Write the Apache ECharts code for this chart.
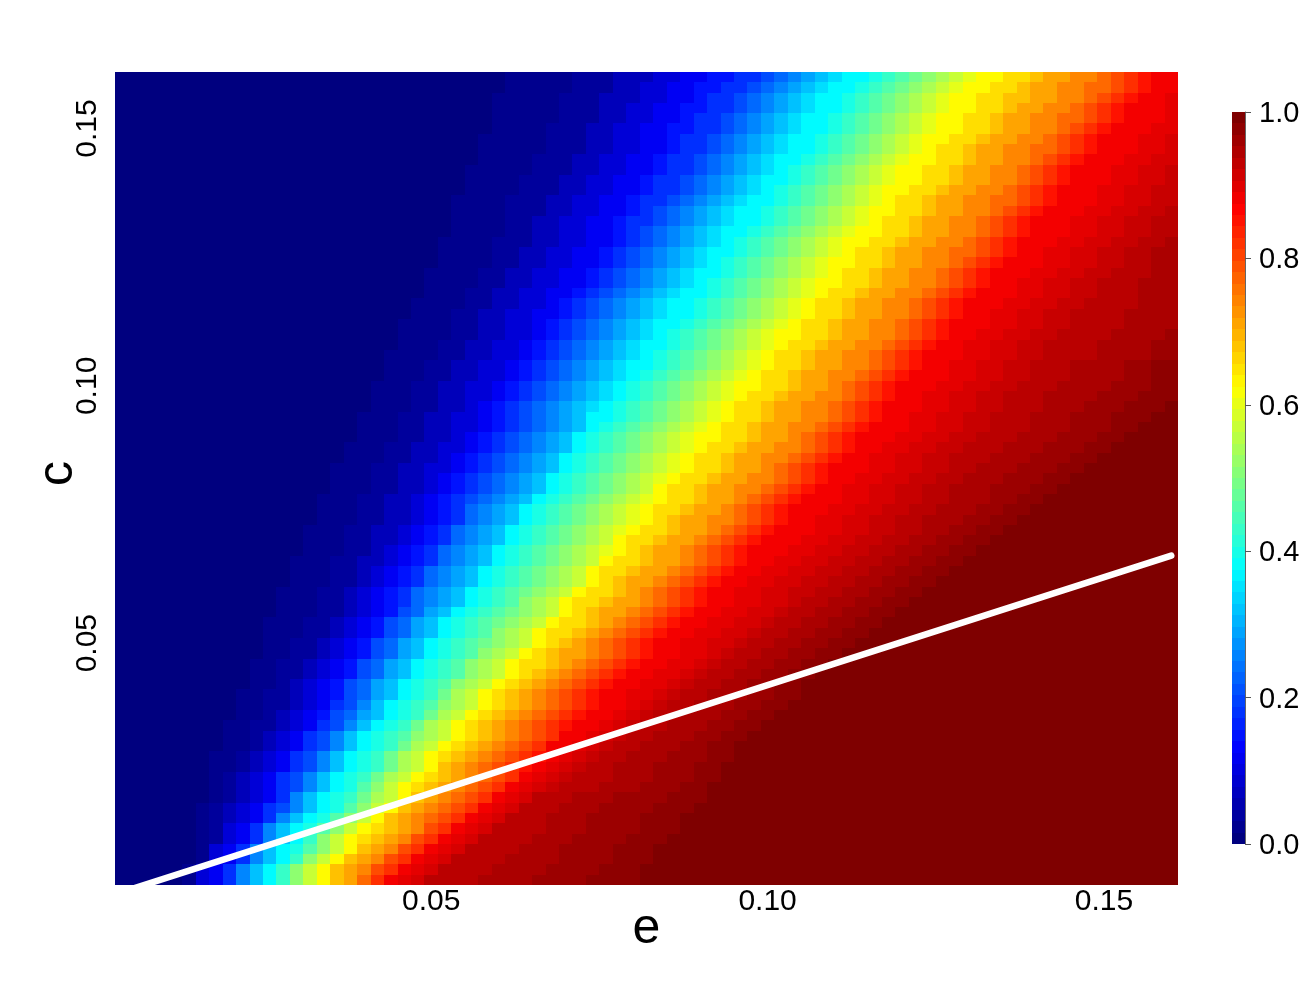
<!DOCTYPE html>
<html>
<head>
<meta charset="utf-8">
<title>e / c</title>
<script src="https://cdn.jsdelivr.net/npm/echarts@6/dist/echarts.min.js"></script>
<style>
  html, body { margin: 0; padding: 0; background: #fff; }
  #main { width: 1300px; height: 1000px; }
</style>
</head>
<body>
<div id="main"></div>
<script>
//cell centres, same for both axes
var eCells = ['0.004','0.006','0.008','0.010','0.012','0.014','0.016','0.018','0.020','0.022','0.024','0.026','0.028','0.030','0.032','0.034','0.036','0.038','0.040','0.042','0.044','0.046','0.048','0.050','0.052','0.054','0.056','0.058','0.060','0.062','0.064','0.066','0.068','0.070','0.072','0.074','0.076','0.078','0.080','0.082','0.084','0.086','0.088','0.090','0.092','0.094','0.096','0.098','0.100','0.102','0.104','0.106','0.108','0.110','0.112','0.114','0.116','0.118','0.120','0.122','0.124','0.126','0.128','0.130','0.132','0.134','0.136','0.138','0.140','0.142','0.144','0.146','0.148','0.150','0.152','0.154','0.156','0.158','0.160'];
var cCells = eCells;
var tickCells = ['0.050', '0.100', '0.150'];

//heatmap rows, bottom row first. rowStart = cells of level 0 on the left,
//rowRamp = one level per cell (0..z base 36, z = 1.0, capitals are the half steps in halfLevels),
//cells after the ramp are z
var rowStart = [5,5,6,6,6,6,6,6,7,7,7,7,7,8,8,8,9,9,9,10,10,10,11,11,11,11,12,12,12,13,13,13,14,14,14,15,15,15,16,16,16,17,17,18,18,18,19,19,19,20,20,20,21,21,21,22,22,23,23,23,24,24,24,25,25,25,25,26,26,26,27,27,27,28,28,28,28,29,29];
var rowRamp = [
  'A3469bdfikmoprtvVwxxxxXXXXyyyyYYYY',
  'A3469bdfikmopqstvVwxxxxXXXXyyyyYYY',
  'A3469bdfikmopqstvVwxxxxXXXXyyyyYYY',
  'A3469bdegikmopqstvVwxxxxXXXyyyyYYY',
  'A13469bdfikmnopqstvVwxxxxXXXyyyyYYY',
  'A13469bdegikmnopqstvVwxxxxXXXyyyyYYY',
  'A123469bdegikmopqrstvVwxxxXXXyyyyYYY',
  'A1234679bdegikmopqrstvVwxxxXXXyyyyYYY',
  'A123469bdefhjkmopqrstvVwxxxXXXyyyyYYY',
  'A1234679bdegikmnopqrstvVwWxxxXXXyyyYY',
  'A1234679bdefhjkmnopqrstvVwWxxxXXXyyyYY',
  'AA1234679bdefhjkmopqrstuvVwWxxXXXyyyYY',
  'AA1234679bdefhjkmnopqrstuvVwWxxXXXyyyYY',
  'AA1234679bdefhjkmnopqrstvvVwWxxXXXyyYY',
  'AA1234679bdefgijkmnopqrstvvVwWxxXXXyyYY',
  'AA11234679bdefhjkmnopqrstuvvVwWxxXXXyyYY',
  'AA1234578abdefhjkmnopqrstuvvVwWxxXXXyyYY',
  'AA11234679bdefgijkmnopqrstuvvVwWxxXXXyyYY',
  'AA11234578abdefhjkmnopqrstuvvVVwWxxXXXyyYY',
  'AA1234578abdefgijkmnopqrstuvvVVwWxxXXyyYY',
  'AA11234578abdefgijkmnopqrstuvvVVwWxxXXyyYY',
  'AA11234578abdefgijkmnnopqrstuvvVVwWxxXXyyYY',
  'AA11234578abdefgijkmnoppqrstuvvVVwWxxXXyyYY',
  'AA11234578abdefghijkmnopqrstuvvVVwwWxxXXyyYY',
  'AAA11234578abdefgijkmnnopqrstuvvVVwwWxxXXyyYY',
  'AAA11234578abdefghijkmnnopqrstuvvVVwwWxxXXyyYY',
  'AAA11234578abdefghijkmnoppqrstuvvVVwwWxxXXyyYY',
  'AAA112345689abdefgijkmnnoppqrstuvvVVwwWxxXXyyYY',
  'AAA112345689abdefghijkmnnopqrstuvvVVwwWWxxXXyyYY',
  'AAA112345689abdefghijkmnoppqrstuvvVVwwWWxxXXyyYY',
  'AAA112345689abdefghijkmnnoppqrstuvvVVwwWWxxXXyyYY',
  'AAA1122345689abdefghijkmnnoppqrstuvvVVwwWWxxXXyyYY',
  'AAA112345689abdefghijklmnoppqrstuvvvVVwwWWxxXXyyYY',
  'AAA1122345689abdefghijkmnnoppqrstuvvvVVwwWWxxXXyyYY',
  'AAA1122345689abdefghijklmnnoppqrstuvvvVVwwWWxxXXyyYY',
  'AAA1122345689abdefghijklmnoppqqrstuvvVVwwWWxxXXXyyYY',
  'AAA1122345689abdefghijklmnnoppqrstuvvvVVwwWWxxXXXyyYY',
  'AAA11223456789abdefghijklmnnoppqrstuvvvVVwwWWxxXXXyyYY',
  'AAA11223456789abdefghijkmnnoppqqrstuvvVVwwWWxxXXXyyyYY',
  'AAA11223456789abdefghijklmnnoppqqrstuvvVVwwWWxxXXXyyyYY',
  'AAA112233456789abdefghijklmnnoppqrstuvvvVVwwWWxxXXXyyyYY',
  'AAA11223456789abdefghijklmnnoppqqrstuvvVVwwWWxxxXXXyyyYY',
  'AAA112233456789abdefghijklmnnoppqqrstuvvVVwwWWxxxXXXyyyYY',
  'AAA11223456789abdefghijklmmnnoppqrstuvvvVVwwWWxxxXXXyyyYY',
  'AAA112233456789abdefghijklmnnoppqqrstuvvvVVwwWWxxxXXXyyyYY',
  'AAA112233456789abddefghijklmnnoppqqrstuvvVVwwWWxxxXXXyyyYYY',
  'AAA11223456789abcdefghijklmnnoppqqrstuvvvVVwwWWxxxXXXyyyYYY',
  'AAA112233456789abcdefghijklmnnoppqqrstuvvVVwwWWxxxXXXXyyyYYY',
  'AAA112233456789abcdefghijklmmnnoppqrstuvvvVVwwWWxxxXXXXyyyYY',
  'AAA112233456789abcdefghijklmnnoppqqrstuvvvVVwwWWxxxXXXXyyYY',
  'AAA112233456789abcddefghijklmnnoppqqrstuvvVVwwWWxxxXXXXyyYY',
  'AAAA112233456789abcdefghijklmnnoppqqrstuvvvVVwwWWxxxxXXXXyy',
  'AAA112233456789abcddefghijklmnnoppqqrstuvvVVwwWWxxxxXXXXyy',
  'AAAA112233456789abcdefghijklmmnnoppqqrstuvvVVwwWWxxxxXXXXy',
  'AAAA112233456789abcddefghijklmnnoppqqrstuvvvVVwwWWxxxxXXXX',
  'AAA1122334456789abcddefghijklmnnoppqqrstuvvVVwwWWxxxxXXXX',
  'AAAA112233456789abcddefghijklmnnoppqqrstuvvvVVwwWWxxxxXXX',
  'AAA1122334456789abcddefghijklmnnoppqqrstuvvvVVwwWWxxxXXX',
  'AAAA1122334456789abcdefghijklmmnnoppqqrstuvvVVwwWWxxxXXX',
  'AAAA1122334456789abcddefghijklmnnoppqqrstuvvvVVwwWWxxxXX',
  'AAAA1122334456789abcdefghijklmmnnoppqqrstuvvvVVwwWWxxXX',
  'AAAA1122334456789abcddefghijklmnnoppqqrrstuvvVVwwWWxxXX',
  'AAAA11122334456789abcdefghijklmmnnoppqqrstuvvvVVwwWWxxX',
  'AAAA1122334456789abcddefghijklmmnnoppqqrstuvvvVVwwWWxx',
  'AAAA11223344566789abcddefghijklmnnoppqqrstuvvvVVwwWWxx',
  'AAAA11122334456789abcddefghijklmmnnoppqqrstuvvvVVwwWWx',
  'AAAA111223344566789abcddefghijklmnnoppqqrrstuvvvVVwwWW',
  'AAAA111223344566789abcdefghijklmmnnoppqqrstuvvvVVwwWW',
  'AAAA111223344566789abcddefghijklmmnnoppqqrstuvvvVVwwW',
  'AAAAA111223344566789abcdefghijklmmnnoppqqrstuvvvVVwwW',
  'AAAA111223344566789abcddefghijklmmnnoppqqrstuvvvVVww',
  'AAAAA111223344566789abcddefghijklmnnoppqqrrstuvvvVVw',
  'AAAAA111223344566789abcddefghijklmmnnoppqqrstuvvvVVw',
  'AAAA1112233445566789abcddefghijklmmnnoppqqrstuvvvVV',
  'AAAAA111223344566789abcddefghijklmmnnoppqqrrstuvvvV',
  'AAAAA1112233445566789abcddefghijklmmnnoppqqrstuvvvV',
  'AAAAA1112223344566789abcddefghijklmmnnooppqqrstuvvV',
  'AAAAA1112233445566789abcddefghijklmmnnoppqqrrstuvv',
  'AAAAA11122233445566789abcddefghijklmmnnoppqqrstuvv'
];
var halfLevels = { A: 0.5, V: 31.5, W: 32.5, X: 33.5, Y: 34.5 };

//white line
var lineE = [0.004, 0.16];
var lineC = [0.0016, 0.067];

//colour bar, 64 steps
var barLevels = [0,0.016,0.032,0.048,0.063,0.079,0.095,0.111,0.127,0.143,0.159,0.175,0.19,0.206,0.222,0.238,0.254,0.27,0.286,0.302,0.317,0.333,0.349,0.365,0.381,0.397,0.413,0.429,0.444,0.46,0.476,0.492,0.508,0.524,0.54,0.556,0.571,0.587,0.603,0.619,0.635,0.651,0.667,0.683,0.698,0.714,0.73,0.746,0.762,0.778,0.794,0.81,0.825,0.841,0.857,0.873,0.889,0.905,0.921,0.937,0.952,0.968,0.984,1];
var jetColors = ['#00007f','#0000ff','#007fff','#00ffff','#7fff7f','#ffff00','#ff7f00','#ff0000','#7f0000'];

var fontName = '"Liberation Sans", Arial, sans-serif';

function levelOf(ch) {
    if (halfLevels[ch] !== undefined) return halfLevels[ch];
    return parseInt(ch, 36);
}

function cellData() {
    var out = [];
    for (var r = 0; r < rowRamp.length; r++) {
        for (var col = 0; col < eCells.length; col++) {
            var i = col - rowStart[r];
            var level = 35;
            if (i < 0) level = 0;
            else if (i < rowRamp[r].length) level = levelOf(rowRamp[r].charAt(i));
            out.push([col, r, level / 35]);
        }
    }
    return out;
}

//cells snapped to whole pixels, the plain heatmap leaves hairlines between them
function renderCell(params, api) {
    var p = api.coord([api.value(0), api.value(1)]);
    var size = api.size([1, 1]);
    var x0 = Math.round(p[0] - size[0] / 2);
    var x1 = Math.round(p[0] + size[0] / 2);
    var y0 = Math.round(p[1] - size[1] / 2);
    var y1 = Math.round(p[1] + size[1] / 2);
    return {
        type: 'rect',
        shape: { x: x0, y: y0, width: x1 - x0, height: y1 - y0 },
        style: { fill: api.visual('color') }
    };
}

function isTick(index, value) {
    return tickCells.indexOf(value) >= 0;
}

function tickText(value) {
    return value.slice(0, 4);
}

var plotRect = { left: 115, top: 72, width: 1063, height: 813, outerBoundsMode: 'none' };
var myChart = echarts.init(document.getElementById('main'));

var option = {
    animation: false,
    backgroundColor: '#fff',
    textStyle: { fontFamily: fontName },
    grid: [
        plotRect,
        { left: 1232, top: 112, width: 13, height: 732, outerBoundsMode: 'none' },
        plotRect
    ],
    xAxis: [{
        type: 'category',
        gridIndex: 0,
        data: eCells,
        name: 'e',
        nameLocation: 'middle',
        nameMoveOverlap: false,
        nameGap: 19,
        nameTextStyle: { fontSize: 50, color: '#000', fontFamily: fontName },
        axisLine: { show: false },
        axisTick: { interval: isTick, alignWithLabel: true, length: 6, lineStyle: { color: '#333' } },
        axisLabel: { interval: isTick, formatter: tickText, fontSize: 30, color: '#000', margin: 2, fontFamily: fontName },
        splitLine: { show: false }
    }, {
        type: 'category',
        gridIndex: 1,
        data: ['bar'],
        show: false
    }, {
        type: 'value',
        gridIndex: 2,
        min: 0.003,
        max: 0.161,
        show: false
    }],
    yAxis: [{
        type: 'category',
        gridIndex: 0,
        data: cCells,
        name: 'c',
        nameLocation: 'middle',
        nameMoveOverlap: false,
        nameGap: 32,
        nameRotate: 90,
        nameTextStyle: { fontSize: 50, color: '#000', fontFamily: fontName, padding: [0, 0, 0, 10] },
        axisLine: { show: false },
        axisTick: { interval: isTick, alignWithLabel: true, length: 7, lineStyle: { color: '#333' } },
        axisLabel: { interval: isTick, formatter: tickText, rotate: 90, fontSize: 30, color: '#000', margin: 12, fontFamily: fontName },
        splitLine: { show: false }
    }, {
        type: 'category',
        gridIndex: 1,
        data: barLevels,
        show: false
    }, {
        type: 'value',
        gridIndex: 1,
        position: 'right',
        min: 0,
        max: 1,
        interval: 0.2,
        axisLine: { show: true, lineStyle: { color: '#666' } },
        axisTick: { show: true, length: 6, lineStyle: { color: '#555' } },
        axisLabel: {
            margin: 14,
            formatter: function(v) { return '{t|' + v.toFixed(1) + '}'; },
            rich: { t: { fontSize: 29, color: '#000', fontFamily: fontName, padding: [4, 0, 0, 0] } }
        },
        splitLine: { show: false }
    }, {
        type: 'value',
        gridIndex: 2,
        min: 0.003,
        max: 0.161,
        show: false
    }],
    visualMap: {
        type: 'continuous',
        show: false,
        min: 0,
        max: 1,
        dimension: 2,
        seriesIndex: [0, 1],
        inRange: { color: jetColors }
    },
    series: [{
        type: 'custom',
        xAxisIndex: 0,
        yAxisIndex: 0,
        data: cellData(),
        encode: { x: 0, y: 1 },
        renderItem: renderCell,
        progressive: 0,
        silent: true
    }, {
        type: 'custom',
        xAxisIndex: 1,
        yAxisIndex: 1,
        data: barLevels.map(function(v, i) { return [0, i, v]; }),
        encode: { x: 0, y: 1 },
        renderItem: renderCell,
        progressive: 0,
        silent: true
    }, {
        type: 'line',
        xAxisIndex: 2,
        yAxisIndex: 3,
        data: lineE.map(function(v, i) { return [v, lineC[i]]; }),
        showSymbol: false,
        silent: true,
        clip: true,
        z: 10,
        lineStyle: { color: '#fff', width: 6.5, cap: 'round' }
    }]
};
myChart.setOption(option);
</script>
</body>
</html>
